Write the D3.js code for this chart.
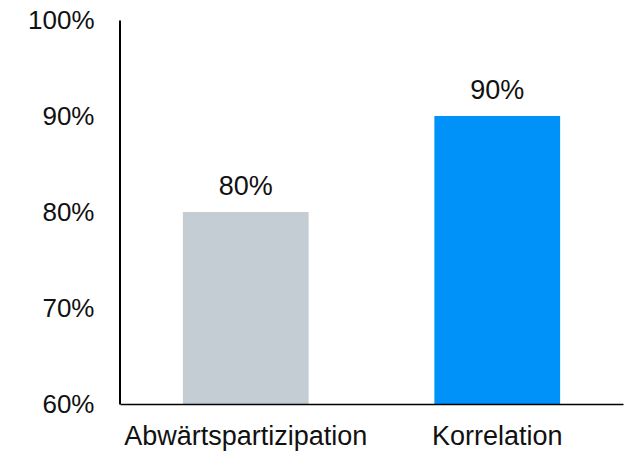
<!DOCTYPE html>
<html>
<head>
<meta charset="utf-8">
<script src="https://cdn.jsdelivr.net/npm/d3@7"></script>
<style>
  html, body { margin: 0; padding: 0; background: #fff; }
  svg { display: block; font-family: "Liberation Sans", Arial, sans-serif; }
</style>
</head>
<body>
<svg id="chart" width="628" height="452"></svg>
<script>
const categories = ["Abwärtspartizipation", "Korrelation"];
const values = [0.80, 0.90];
const barColors = ["#C3CDD3", "#0091F9"];
const tickValues = [0.6, 0.7, 0.8, 0.9, 1.0];

const svg = d3.select("#chart");
const margin = { left: 120, right: 5, top: 20, bottom: 48 };
const W = 628, H = 452;

const x = d3.scaleBand()
  .domain(categories)
  .range([margin.left, W - margin.right])
  .paddingInner(0.5)
  .paddingOuter(0.25);

const y = d3.scaleLinear()
  .domain([0.6, 1.0])
  .range([H - margin.bottom, margin.top]);

// bars
svg.selectAll("rect.bar")
  .data(categories)
  .enter().append("rect")
  .attr("class", "bar")
  .attr("x", d => x(d))
  .attr("width", x.bandwidth())
  .attr("y", (d, i) => y(values[i]))
  .attr("height", (d, i) => y(0.6) - y(values[i]))
  .attr("fill", (d, i) => barColors[i]);

// value labels
svg.selectAll("text.val")
  .data(categories)
  .enter().append("text")
  .attr("class", "val")
  .attr("x", d => x(d) + x.bandwidth() / 2)
  .attr("y", (d, i) => y(values[i]) - 17)
  .attr("text-anchor", "middle")
  .attr("font-size", 27)
  .attr("fill", "#111")
  .text((d, i) => d3.format(".0%")(values[i]));

// y axis
const yAxis = d3.axisLeft(y)
  .tickValues(tickValues)
  .tickFormat(d3.format(".0%"))
  .tickSize(0)
  .tickPadding(25);
const gy = svg.append("g")
  .attr("transform", `translate(${margin.left - 0.5},0)`)
  .call(yAxis);
gy.select(".domain").attr("stroke", "#000").attr("stroke-width", 2);
gy.selectAll("text")
  .attr("font-size", 26)
  .attr("fill", "#111")
  .attr("font-family", "Liberation Sans, Arial, sans-serif");

// x axis
const xAxis = d3.axisBottom(x).tickSize(0).tickPadding(22);
const gx = svg.append("g")
  .attr("transform", `translate(0,${H - margin.bottom})`)
  .call(xAxis);
gx.select(".domain").attr("stroke", "#000").attr("stroke-width", 1.5);
gx.selectAll("text")
  .attr("font-size", 27)
  .attr("fill", "#111")
  .attr("font-family", "Liberation Sans, Arial, sans-serif");
</script>
</body>
</html>
